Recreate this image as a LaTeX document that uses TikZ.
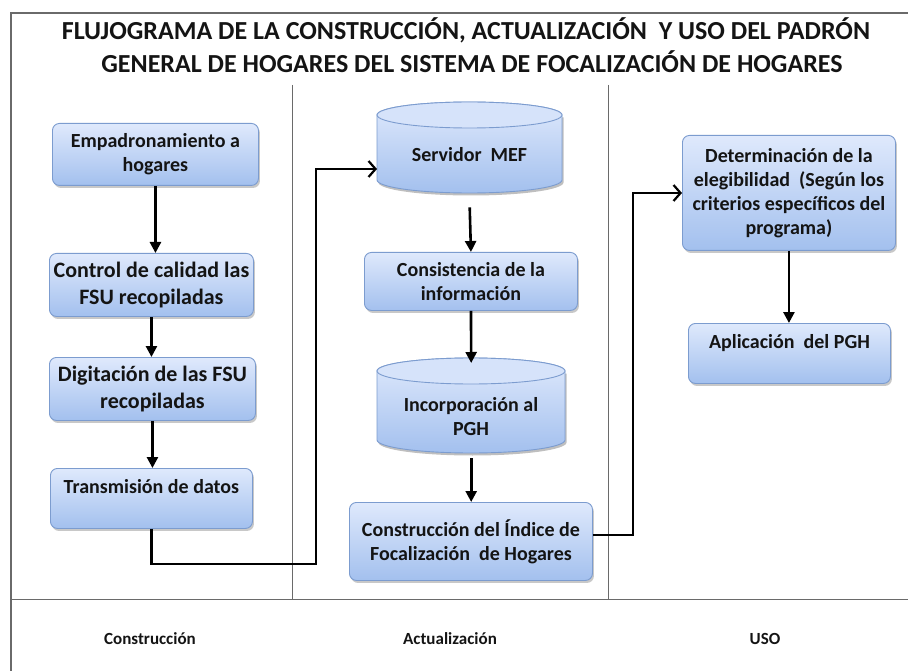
\documentclass[tikz,border=0pt]{standalone}
\usepackage{fontspec}
\setmainfont{Carlito}
\usetikzlibrary{arrows.meta,shadows}
\definecolor{boxtop}{HTML}{DFE9FC}
\definecolor{boxbot}{HTML}{A3C0EE}
\definecolor{boxline}{HTML}{7C9CCF}
\definecolor{frameline}{HTML}{6A6A6A}
\definecolor{inkc}{HTML}{141414}
\tikzset{
  procbox/.style={draw=boxline, line width=0.9pt, rounded corners=7pt,
    top color=boxtop, bottom color=boxbot,
    drop shadow={shadow xshift=1.5pt, shadow yshift=-2.5pt, opacity=0.3, fill=black!70},
    align=center, font=\fontsize{20}{24}\selectfont\bfseries, text=inkc,
    inner sep=0pt, anchor=north west},
  bigtext/.style={font=\fontsize{22}{27}\selectfont\bfseries},
  ghost/.style={inner sep=0pt, anchor=north west},
  cyltext/.style={align=center, font=\fontsize{20}{24}\selectfont\bfseries, text=inkc, inner sep=0pt},
  titletext/.style={font=\fontsize{26}{30}\selectfont\bfseries, text=inkc, inner sep=0pt},
  lanetext/.style={font=\fontsize{17}{20}\selectfont\bfseries, text=inkc, inner sep=0pt},
  arr/.style={line width=2.6pt, draw=black, -{Triangle[length=11pt,width=11pt]}},
  entry/.style={line width=2.6pt, draw=black, -{Straight Barb[length=7pt,width=16pt,line width=2.2pt]}},
  divider/.style={line width=1pt, draw=frameline},
  frame/.style={line width=1.5pt, draw=frameline}
}
\newcommand{\mycyl}[4]{% x1, x2, ytop, ybottom
  \pgfmathsetmacro{\cx}{(#1+#2)/2}
  \pgfmathsetmacro{\rx}{(#2-#1)/2}
  \fill[black, opacity=0.25] ({#1+1.5},{#3+13+2.5}) -- ({#1+1.5},{#4-13+2.5})
     arc[start angle=180, end angle=360, x radius=\rx pt, y radius=13pt]
     -- ({#2+1.5},{#3+13+2.5}) -- cycle;
  \path[draw=boxline, line width=0.9pt, top color=boxtop, bottom color=boxbot]
     (#1,{#3+13}) -- (#1,{#4-13})
     arc[start angle=180, end angle=360, x radius=\rx pt, y radius=13pt]
     -- (#2,{#3+13})
     arc[start angle=0, end angle=180, x radius=\rx pt, y radius=13pt] -- cycle;
  \draw[boxline, line width=0.9pt, fill=boxtop!85!boxbot] (\cx,{#3+13}) ellipse[x radius=\rx pt, y radius=13pt];
}
\begin{document}
\begin{tikzpicture}[x=1pt, y=-1pt]
\useasboundingbox (0,0) rectangle (908,671);
\fill[white] (0,0) rectangle (908,671);

% frame and lanes
\draw[frame] (11,671) -- (11,13) -- (908,13);
\draw[divider] (11,599) -- (908,599);
\draw[divider] (292,85) -- (292,599);
\draw[divider] (608,85) -- (608,599);

% title
\node[titletext] (title1) at (466,30) {FLUJOGRAMA DE LA CONSTRUCCIÓN, ACTUALIZACIÓN\ \ Y USO DEL PADRÓN};
\node[titletext] (title2) at (472,62) {GENERAL DE HOGARES DEL SISTEMA DE FOCALIZACIÓN DE HOGARES};

% column 1
\node[procbox, minimum width=206pt, minimum height=62pt] (emp) at (52,123) {Empadronamiento a\\hogares};
\node[procbox, bigtext, minimum width=204pt, minimum height=63pt] (ctrl) at (49,253) {Control de calidad las\\FSU recopiladas};
\node[procbox, bigtext, minimum width=206pt, minimum height=63pt] (dig) at (49,357) {Digitación de las FSU\\recopiladas};
\node[procbox, minimum width=202pt, minimum height=60pt] (trans) at (50,468) {Transmisión de datos\\[-8pt]\strut};

% column 2
\mycyl{377}{562}{102}{193}
\node[ghost, minimum width=185pt, minimum height=91pt] (serv) at (377,102) {};
\node[cyltext] (servtxt) at (469.5,155) {Servidor\ \ MEF};
\node[procbox, minimum width=213pt, minimum height=58pt] (cons) at (364,252) {Consistencia de la\\información};
\mycyl{377}{565}{358}{453}
\node[ghost, minimum width=188pt, minimum height=95pt] (inc) at (377,358) {};
\node[cyltext] (inctxt) at (471,417) {Incorporación al\\PGH};
\node[procbox, minimum width=243pt, minimum height=78pt] (ind) at (349,502) {Construcción del Índice de\\Focalización\ \ de Hogares};

% column 3
\node[procbox, minimum width=213pt, minimum height=115pt] (det) at (682,135) {Determinación de la\\elegibilidad\ \ (Según los\\criterios específicos del\\programa)};
\node[procbox, minimum width=202pt, minimum height=60pt] (apl) at (688,323) {Aplicación\ \ del PGH\\[-8pt]\strut};

% lane labels
\node[lanetext] (lab1) at (150,639) {Construcción};
\node[lanetext] (lab2) at (450,639) {Actualización};
\node[lanetext] (lab3) at (765,639) {USO};

% connectors
\draw[arr] (emp.south) -- (emp.south |- ctrl.north);
\draw[arr] (ctrl.south) -- (ctrl.south |- dig.north);
\draw[arr] (dig.south) -- (dig.south |- trans.north);
\draw[arr] ([yshift=-14pt]serv.south) -- (cons.north);
\draw[arr] (cons.south) -- ([yshift=-5pt]inc.north);
\draw[arr] ([yshift=-5pt]inc.south) -- (inc.south |- ind.north);
\draw[arr] (det.south) -- (det.south |- apl.north);

\coordinate (k1) at (316,564);
\coordinate (k2) at (316,169);
\draw[entry] (trans.south) |- (k1) -- (k2) -- (k2 -| serv.west);
\coordinate (k3) at (633,535);
\coordinate (k4) at (633,193);
\draw[entry] (k3 -| ind.east) -- (k3) -- (k4) -- (k4 -| det.west);
\end{tikzpicture}
\end{document}
